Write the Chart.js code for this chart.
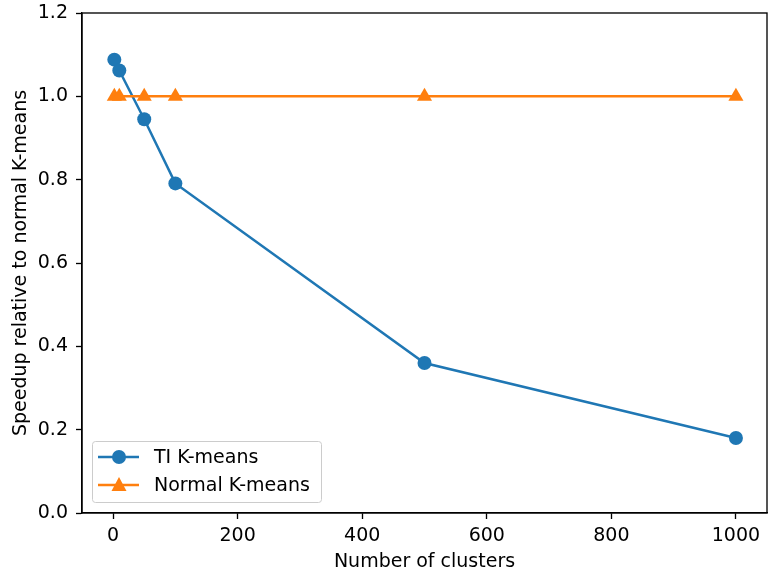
<!DOCTYPE html>
<html>
<head>
<meta charset="utf-8">
<script src="https://cdn.jsdelivr.net/npm/chart.js@4.4.0/dist/chart.umd.min.js"></script>
<style>
  html, body { margin: 0; padding: 0; background: #fff; }
  #wrap { width: 768px; height: 577px; }
</style>
</head>
<body>
<div id="wrap"><canvas id="chart" width="768" height="577"></canvas></div>
<script>
// data
const clusters = [2, 10, 50, 100, 500, 1000];
const tiKmeans = [1.088, 1.062, 0.945, 0.791, 0.36, 0.18];
const normalKmeans = [1.0, 1.0, 1.0, 1.0, 1.0, 1.0];
const xTicks = [0, 200, 400, 600, 800, 1000];
const yTicks = [0.0, 0.2, 0.4, 0.6, 0.8, 1.0, 1.2];

const FONT = 'DejaVu Sans';
const FS = 19;
const BLUE = '#1f77b4';
const ORANGE = '#ff7f0e';

function toPoints(xs, ys) {
    return xs.map((x, i) => ({ x: x, y: ys[i] }));
}

// frame on all four sides, like matplotlib axes
const framePlugin = {
    id: 'frame',
    afterDatasetsDraw(chart) {
        const a = chart.chartArea;
        const ctx = chart.ctx;
        ctx.save();
        ctx.strokeStyle = '#000';
        ctx.lineWidth = 1.33;
        ctx.strokeRect(a.left, a.top, a.right - a.left, a.bottom - a.top);
        ctx.restore();
    }
};

// legend box in the lower left corner of the plot
const legendPlugin = {
    id: 'innerLegend',
    afterDraw(chart) {
        const a = chart.chartArea;
        const ctx = chart.ctx;
        const x0 = a.left + 10, y0 = a.bottom - 72;
        const w = 229, h = 61;
        ctx.save();
        ctx.fillStyle = 'rgba(255,255,255,0.8)';
        ctx.strokeStyle = '#cccccc';
        ctx.lineWidth = 1;
        ctx.beginPath();
        ctx.roundRect(x0 + 0.5, y0 + 0.5, w, h, 3);
        ctx.fill();
        ctx.stroke();
        const items = [
            { label: 'TI K-means', color: BLUE, style: 'circle' },
            { label: 'Normal K-means', color: ORANGE, style: 'triangle' }
        ];
        ctx.font = FS + 'px "' + FONT + '"';
        ctx.textBaseline = 'middle';
        items.forEach((it, i) => {
            const cy = y0 + 16 + i * 28;
            ctx.strokeStyle = it.color;
            ctx.lineWidth = 2.5;
            ctx.beginPath();
            ctx.moveTo(x0 + 6, cy);
            ctx.lineTo(x0 + 47, cy);
            ctx.stroke();
            ctx.fillStyle = it.color;
            ctx.beginPath();
            if (it.style === 'circle') {
                ctx.arc(x0 + 27, cy, 7, 0, Math.PI * 2);
            } else {
                ctx.moveTo(x0 + 27, cy - 8);
                ctx.lineTo(x0 + 34.5, cy + 6);
                ctx.lineTo(x0 + 19.5, cy + 6);
                ctx.closePath();
            }
            ctx.fill();
            ctx.fillStyle = '#000';
            ctx.fillText(it.label, x0 + 62, cy + 1);
        });
        ctx.restore();
    }
};

const ctx = document.getElementById('chart').getContext('2d');
new Chart(ctx, {
    type: 'scatter',
    data: {
        datasets: [{
            label: 'TI K-means',
            data: toPoints(clusters, tiKmeans),
            showLine: true,
            borderColor: BLUE,
            backgroundColor: BLUE,
            borderWidth: 2.5,
            pointStyle: 'circle',
            pointRadius: 7,
            pointBorderWidth: 0,
            order: 1
        }, {
            label: 'Normal K-means',
            data: toPoints(clusters, normalKmeans),
            showLine: true,
            borderColor: ORANGE,
            backgroundColor: ORANGE,
            borderWidth: 2.5,
            pointStyle: 'triangle',
            pointRadius: 8.7,
            pointBorderWidth: 0,
            order: 0
        }]
    },
    options: {
        responsive: false,
        animation: false,
        devicePixelRatio: 1,
        layout: { autoPadding: false, padding: { top: 13, right: 1, left: 6, bottom: 0 } },
        plugins: {
            legend: { display: false },
            tooltip: { enabled: false }
        },
        scales: {
            x: {
                type: 'linear',
                min: -49.9,
                max: 1049.9,
                afterBuildTicks: s => { s.ticks = xTicks.map(v => ({ value: v })); },
                afterFit: s => { s.height = 64; s.paddingLeft = 0; s.paddingRight = 0; },
                grid: { drawOnChartArea: false, drawTicks: true, tickLength: 6, tickColor: '#000', tickWidth: 1.33 },
                border: { display: true, color: '#000', width: 1.33 },
                ticks: { color: '#000', font: { family: FONT, size: FS }, padding: 6, maxRotation: 0, callback: v => String(v) },
                title: { display: true, text: 'Number of clusters', color: '#000', font: { family: FONT, size: FS }, padding: { top: 0 } }
            },
            y: {
                type: 'linear',
                min: 0,
                max: 1.2,
                afterBuildTicks: s => { s.ticks = yTicks.map(v => ({ value: v })); },
                afterFit: s => { s.width = 76; s.paddingTop = 0; s.paddingBottom = 0; },
                grid: { drawOnChartArea: false, drawTicks: true, tickLength: 6, tickColor: '#000', tickWidth: 1.33 },
                border: { display: true, color: '#000', width: 1.33 },
                ticks: { color: '#000', font: { family: FONT, size: FS }, padding: 8, callback: v => v.toFixed(1) },
                title: { display: true, text: 'Speedup relative to normal K-means', color: '#000', font: { family: FONT, size: FS }, padding: { bottom: 4 } }
            }
        }
    },
    plugins: [framePlugin, legendPlugin]
});
</script>
</body>
</html>
